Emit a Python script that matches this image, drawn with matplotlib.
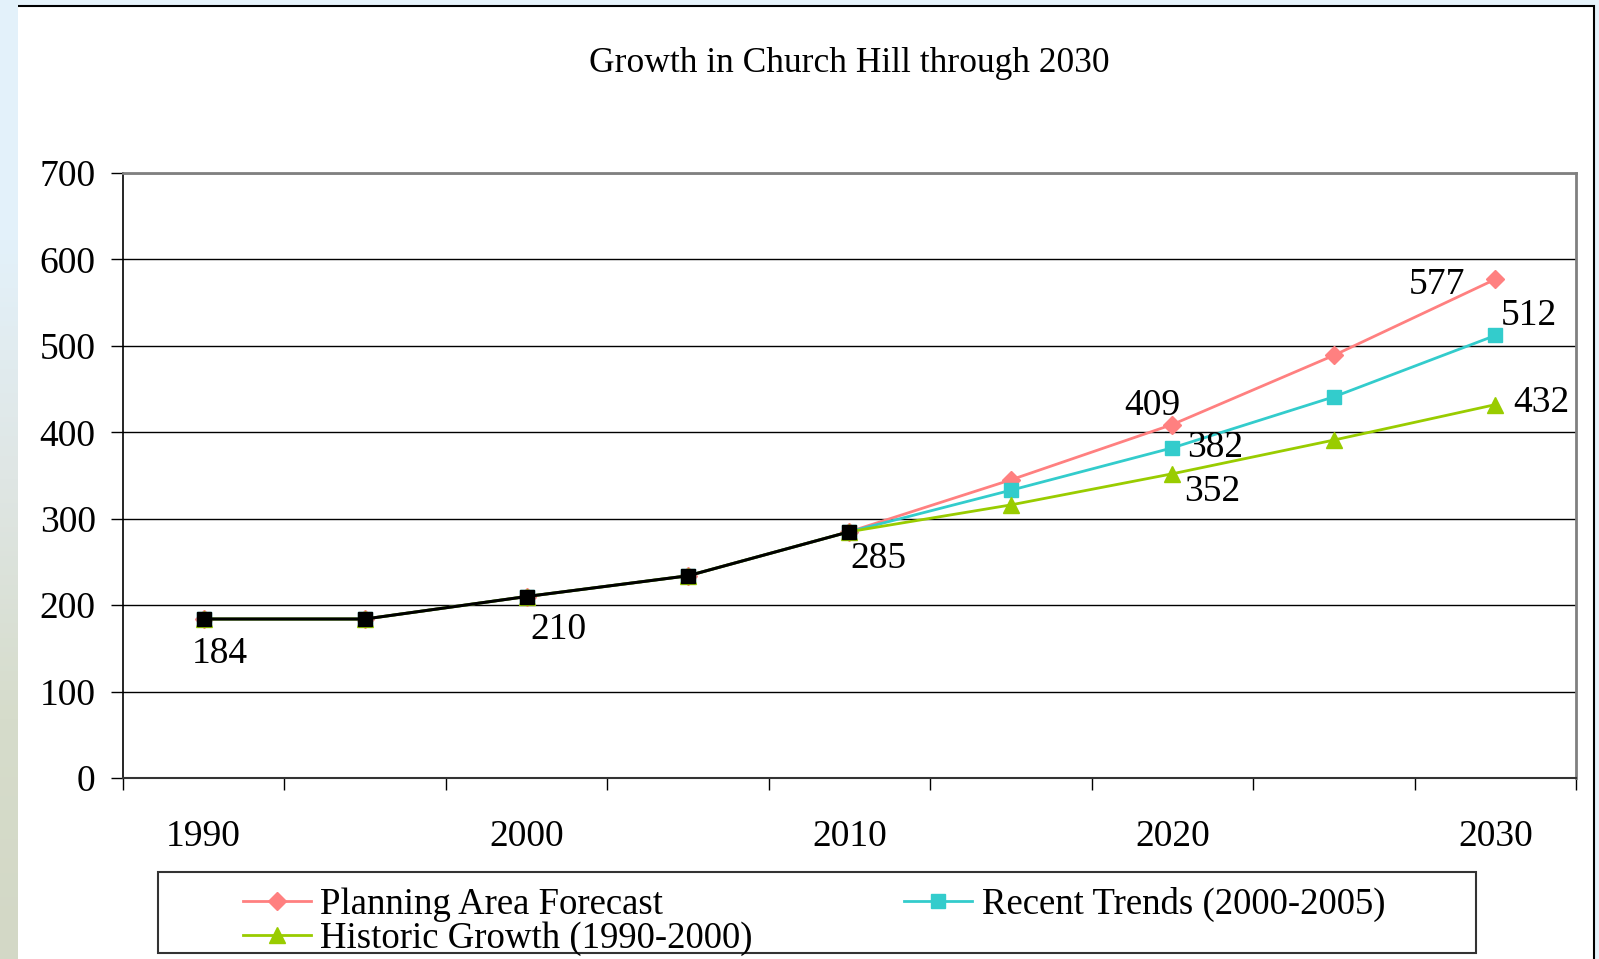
import numpy as np
import matplotlib
matplotlib.use("Agg")
from matplotlib import pyplot as plt
from matplotlib.patches import Rectangle

plt.rcParams['font.family'] = ['Liberation Serif', 'DejaVu Serif']

# data
years = ['1990', '1995', '2000', '2005', '2010', '2015', '2020', '2025', '2030']
observed = [184, 184, 210, 234, 285]
planning = [184, 184, 210, 234, 285, 345, 409, 489, 577]
recent = [184, 184, 210, 234, 285, 333, 382, 441, 512]
historic = [184, 184, 210, 234, 285, 316, 352, 391, 432]

PINK = '#FF8080'
TEAL = '#33CCCC'
GREEN = '#99CC00'

fig = plt.figure(figsize=(15.99, 9.59), dpi=100)
fig.patch.set_facecolor('#e6f3fb')

# faded photo strip on the left edge
strip = fig.add_axes([0, 0, 0.011, 1])
grad = np.linspace(0, 1, 200)[:, None]
cmap = matplotlib.colors.LinearSegmentedColormap.from_list(
    'bg', ['#e3f1fa', '#e3f1fa', '#dfe6e4', '#d6dccb', '#d3d8c6'])
strip.imshow(grad, aspect='auto', cmap=cmap, extent=[0, 1, 0, 1], origin='upper')
strip.axis('off')

# white chart area with black border
fig.add_artist(Rectangle((0.0100, -0.02), 0.9869, 1.0137, transform=fig.transFigure,
                         facecolor='white', edgecolor='black', lw=1.5, zorder=0))

ax = fig.add_axes([0.0769, 0.1887, 0.9087, 0.6309])
ax.set_facecolor('white')
x = np.arange(len(years))

ax.plot(x, planning, color=PINK, lw=2, marker='D', ms=9, label='Planning Area Forecast', zorder=3)
ax.plot(x, recent, color=TEAL, lw=2, marker='s', ms=10, label='Recent Trends (2000-2005)', zorder=3)
ax.plot(x, historic, color=GREEN, lw=2, marker='^', ms=12, label='Historic Growth (1990-2000)', zorder=3)
ax.plot(x[:len(observed)], observed, color='black', lw=2.2, marker='s', ms=10.5, zorder=4)

ax.set_xlim(-0.5, len(years) - 0.5)
ax.set_ylim(0, 700)
ax.set_yticks(range(0, 701, 100))
ax.yaxis.grid(True, color='black', lw=1)
ax.set_axisbelow(True)
ax.tick_params(axis='y', direction='out', length=8.6, width=1, pad=11, labelsize=27)

# category axis: ticks between categories, labels every other year
ax.set_xticks(np.arange(-0.5, len(years), 1.0))
ax.set_xticklabels([])
ax.set_xticks(x[::2], minor=True)
ax.set_xticklabels(years[::2], minor=True)
ax.tick_params(axis='x', which='major', direction='out', length=8.6, width=1)
ax.tick_params(axis='x', which='minor', length=0, pad=30, labelsize=27)

for s in ['top', 'right']:
    ax.spines[s].set_color('#808080')
    ax.spines[s].set_linewidth(2)
ax.spines['left'].set_color('black')
ax.spines['bottom'].set_color('#333333')
ax.spines['left'].set_linewidth(1.2)
ax.spines['bottom'].set_linewidth(1.5)

# data labels (offsets in pixels)
labels = [
    (observed, 0, 16, -35), (observed, 2, 32, -33), (observed, 4, 29, -27),
    (planning, 6, -20, 19), (recent, 6, 43, 0), (historic, 6, 40, -18),
    (planning, 8, -58, -5), (recent, 8, 34, 20), (historic, 8, 46, 2),
]
for series, i, dx, dy in labels:
    ax.annotate(str(series[i]), (x[i], series[i]), xytext=(dx, dy), textcoords='offset pixels',
                ha='center', va='center', fontsize=27, annotation_clip=False, zorder=5)

fig.text(0.531, 0.934, 'Growth in Church Hill through 2030', ha='center', va='center', fontsize=25.5)

# legend: frame drawn separately, entries ordered so row 1 holds two items
fig.add_artist(Rectangle((0.0988, 0.0063), 0.8243, 0.0845, transform=fig.transFigure,
                         edgecolor='#333333', facecolor='white', lw=1.5, zorder=1))
h, l = ax.get_legend_handles_labels()
order = [0, 2, 1]
leg = fig.legend([h[k] for k in order], [l[k] for k in order], ncol=2, loc='center',
                 bbox_to_anchor=(0.509, 0.039), bbox_transform=fig.transFigure,
                 frameon=False, fontsize=26.5, handlelength=1.85, handletextpad=0.25,
                 columnspacing=4.12, labelspacing=0.0, borderpad=0)
leg.set_zorder(2)

fig.savefig('out.png', dpi=100, facecolor=fig.get_facecolor())
